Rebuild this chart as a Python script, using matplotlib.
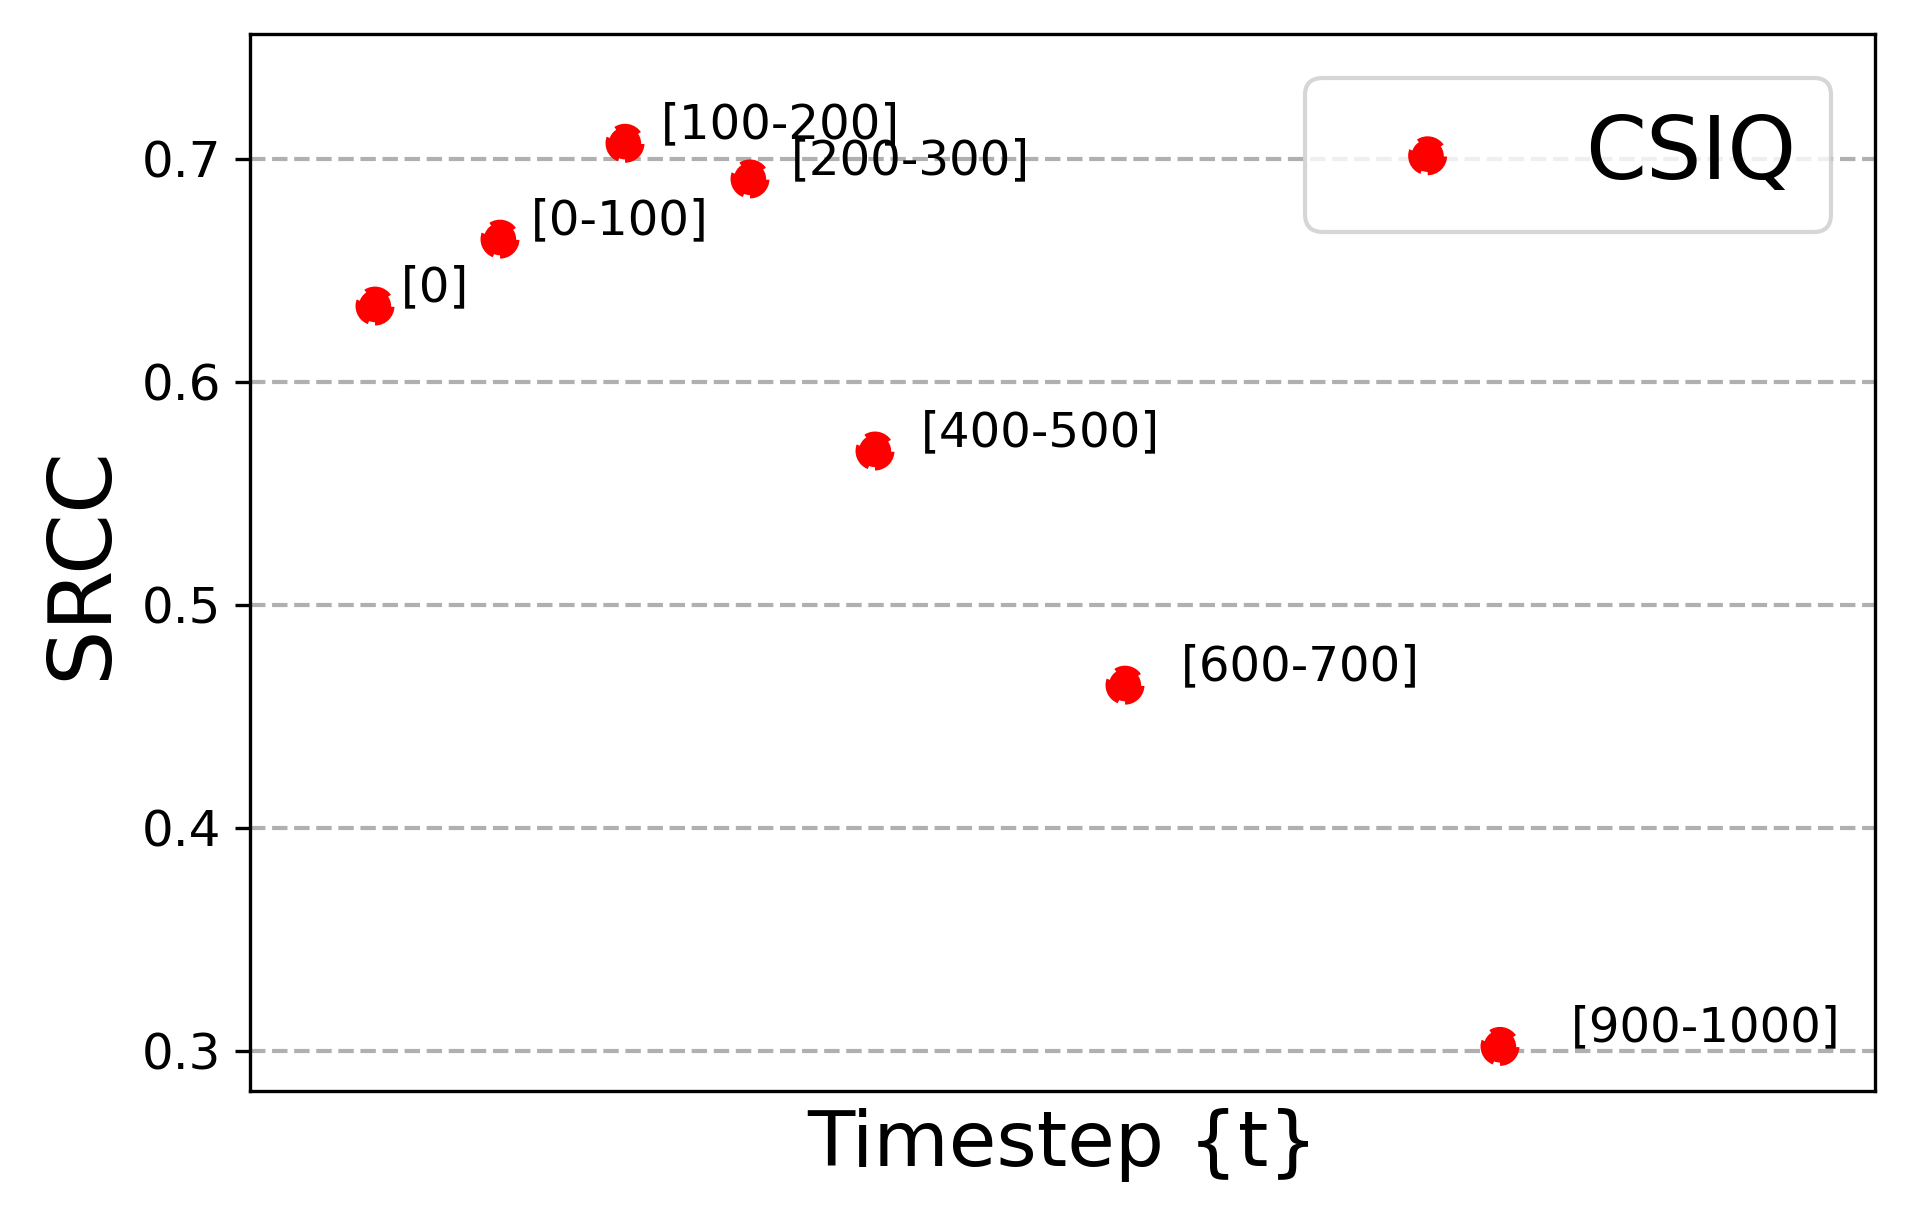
import matplotlib
matplotlib.use("Agg")
import matplotlib.pyplot as plt

timesteps = [0, 100, 200, 300, 400, 600, 900]
labels = ["[0]", "[0-100]", "[100-200]", "[200-300]", "[400-500]", "[600-700]", "[900-1000]"]
srcc = [0.634, 0.664, 0.707, 0.691, 0.569, 0.464, 0.302]
series_name = "CSIQ"
yticks = [0.3, 0.4, 0.5, 0.6, 0.7]

W, H, DPI = 1912, 1222, 300
fig = plt.figure(figsize=(W / DPI, H / DPI), dpi=DPI)
ax = fig.add_axes([250 / W, 1 - 1091 / H, (1875 - 250) / W, (1091 - 34) / H])

ax.scatter(timesteps, srcc, s=60, c="red", edgecolors="red", linestyle="--",
           linewidths=1.6, label=series_name, zorder=3)
for xv, yv, lab in zip(timesteps, srcc, labels):
    ax.text(xv * 1.04 + 21, yv + 0.0083, lab, fontsize=11.6, ha="left", va="center")

ax.set_xlim(-100, 1200)
ax.set_ylim(0.282, 0.756)
ax.set_yticks(yticks)
ax.set_xticks([])
ax.tick_params(axis="y", labelsize=12)
ax.grid(axis="y", linestyle="--", color="#b0b0b0", linewidth=1.0)
ax.set_axisbelow(True)
ax.set_xlabel("Timestep {t}", fontsize=18.6)
ax.set_ylabel("SRCC", fontsize=21)
ax.legend(loc="upper right", fontsize=21)

fig.savefig("out.png", dpi=DPI)
